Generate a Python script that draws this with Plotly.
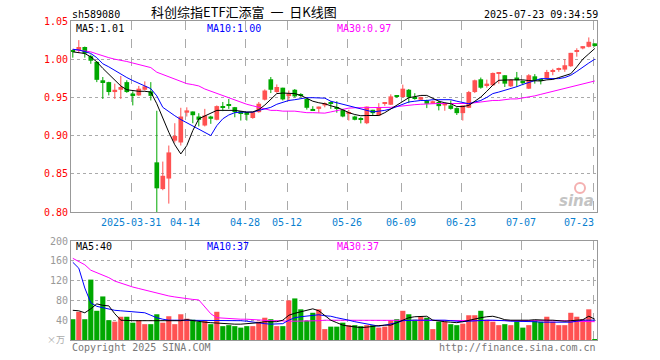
import plotly.graph_objects as go

# ---------------- data ----------------
dates = (["2025-03-%02d" % d for d in [17, 18, 19, 20, 21, 24, 25, 26, 27, 28, 31]] +
         ["2025-04-%02d" % d for d in [1, 2, 3, 7, 8, 9, 10, 11, 14, 15, 16, 17, 18, 21, 22, 23, 24, 25, 28, 29, 30]] +
         ["2025-05-%02d" % d for d in [6, 7, 8, 9, 12, 13, 14, 15, 16, 19, 20, 21, 22, 23, 26, 27, 28, 29, 30]] +
         ["2025-06-%02d" % d for d in [3, 4, 5, 6, 9, 10, 11, 12, 13, 16, 17, 18, 19, 20, 23, 24, 25, 26, 27, 30]] +
         ["2025-07-%02d" % d for d in [1, 2, 3, 4, 7, 8, 9, 10, 11, 14, 15, 16, 17, 18, 21, 22, 23]])

opens = [1.011, 1.0115, 1.016, 1.004, 0.9965, 0.9724, 0.970, 0.957, 0.960, 0.970,
         0.955, 0.9526, 0.960, 0.958, 0.865, 0.830, 0.8438, 0.8934, 0.891, 0.930,
         0.9316, 0.925, 0.9132, 0.925, 0.9207, 0.9375, 0.940, 0.9372, 0.932, 0.9307,
         0.923, 0.9307, 0.947, 0.9737, 0.957, 0.9627, 0.9517, 0.960, 0.953, 0.948,
         0.934, 0.935, 0.9395, 0.942, 0.937, 0.9338, 0.9285, 0.925, 0.921, 0.9162,
         0.9338, 0.9263, 0.9415, 0.9404, 0.9515, 0.9504, 0.960, 0.9495, 0.947, 0.946,
         0.9417, 0.944, 0.9395, 0.9395, 0.936, 0.9294, 0.9364, 0.957, 0.9737, 0.9658,
         0.9658, 0.981, 0.979, 0.9645, 0.976, 0.9695, 0.9614, 0.9776, 0.9735, 0.9754,
         0.984, 0.986, 0.9864, 0.9908, 1.0105, 1.0141, 1.0162, 1.0207]
highs = [1.013, 1.025, 1.0165, 1.006, 0.9975, 0.9767, 0.9705, 0.968, 0.978, 0.9724,
         0.958, 0.965, 0.971, 0.970, 0.9325, 0.866, 0.887, 0.9162, 0.9364, 0.937,
         0.9316, 0.9293, 0.935, 0.926, 0.9395, 0.944, 0.948, 0.9375, 0.932, 0.931,
         0.931, 0.944, 0.9605, 0.9767, 0.967, 0.9627, 0.959, 0.961, 0.9555, 0.948,
         0.9385, 0.938, 0.9435, 0.945, 0.945, 0.935, 0.9338, 0.926, 0.924, 0.938,
         0.9338, 0.9425, 0.9435, 0.954, 0.9515, 0.9667, 0.961, 0.9555, 0.951, 0.947,
         0.946, 0.946, 0.9435, 0.946, 0.937, 0.9395, 0.9585, 0.9733, 0.976, 0.9733,
         0.9825, 0.9825, 0.979, 0.974, 0.9833, 0.9724, 0.9805, 0.9805, 0.974, 0.986,
         0.9875, 0.989, 1.000, 1.0083, 1.0143, 1.0171, 1.0285, 1.0207]
lows = [1.002, 1.008, 1.002, 0.994, 0.970, 0.948, 0.9526, 0.948, 0.948, 0.956,
        0.9395, 0.952, 0.959, 0.946, 0.799, 0.8285, 0.811, 0.891, 0.887, 0.925,
        0.9162, 0.912, 0.912, 0.9154, 0.920, 0.932, 0.935, 0.924, 0.9197, 0.9197,
        0.922, 0.930, 0.946, 0.9557, 0.956, 0.946, 0.945, 0.950, 0.950, 0.934,
        0.933, 0.930, 0.937, 0.935, 0.930, 0.924, 0.9197, 0.920, 0.916, 0.915,
        0.927, 0.926, 0.939, 0.940, 0.9495, 0.950, 0.9425, 0.947, 0.9465, 0.936,
        0.9417, 0.933, 0.9325, 0.934, 0.927, 0.9197, 0.936, 0.9557, 0.9614, 0.9627,
        0.965, 0.968, 0.9636, 0.9636, 0.9636, 0.966, 0.961, 0.968, 0.967, 0.975,
        0.979, 0.9835, 0.9835, 0.990, 1.0033, 1.013, 1.0155, 1.0162]
closes = [1.0095, 1.016, 1.0075, 0.998, 0.973, 0.970, 0.957, 0.960, 0.9636, 0.957,
          0.9526, 0.9614, 0.9645, 0.952, 0.831, 0.8474, 0.878, 0.8996, 0.925, 0.933,
          0.9267, 0.9207, 0.9263, 0.922, 0.9386, 0.937, 0.9395, 0.9307, 0.9294, 0.9272,
          0.9307, 0.9417, 0.959, 0.960, 0.9636, 0.9474, 0.9549, 0.9513, 0.9525, 0.9364,
          0.9335, 0.938, 0.9425, 0.9415, 0.935, 0.925, 0.929, 0.9207, 0.9205, 0.938,
          0.9294, 0.9372, 0.942, 0.9513, 0.951, 0.9614, 0.9504, 0.949, 0.9504, 0.9417,
          0.945, 0.9386, 0.9425, 0.935, 0.9294, 0.9395, 0.957, 0.9724, 0.9627, 0.968,
          0.982, 0.9825, 0.968, 0.973, 0.9724, 0.969, 0.979, 0.9724, 0.9725, 0.9833,
          0.985, 0.9868, 0.9921, 1.0083, 1.0113, 1.0171, 1.0228, 1.0184]

ma5 = [1.0096, 1.009, 1.0075, 1.003, 0.9965, 0.988, 0.980, 0.972, 0.965, 0.960,
       0.959, 0.958, 0.958, 0.957, 0.9417, 0.922, 0.9044, 0.888, 0.876, 0.887,
       0.9066, 0.922, 0.926, 0.929, 0.933, 0.933, 0.933, 0.933, 0.932, 0.9307,
       0.931, 0.934, 0.940, 0.948, 0.955, 0.9557, 0.9557, 0.955, 0.9526, 0.949,
       0.945, 0.943, 0.9417, 0.939, 0.937, 0.9338, 0.930, 0.9276, 0.926, 0.9263,
       0.9263, 0.9263, 0.930, 0.935, 0.9395, 0.945, 0.9496, 0.951, 0.9526, 0.9526,
       0.949, 0.945, 0.943, 0.9417, 0.938, 0.938, 0.9395, 0.945, 0.9504, 0.958,
       0.966, 0.9724, 0.973, 0.973, 0.973, 0.973, 0.972, 0.972, 0.9715, 0.973,
       0.9735, 0.976, 0.978, 0.981, 0.990, 1.000, 1.007, 1.014]
ma10 = [1.013, 1.012, 1.010, 1.0075, 1.002, 0.994, 0.990, 0.985, 0.981, 0.976,
        0.972, 0.969, 0.965, 0.9614, 0.952, 0.937, 0.931, 0.926, 0.921, 0.917,
        0.913, 0.909, 0.904, 0.900, 0.913, 0.922, 0.927, 0.930, 0.9307, 0.9307,
        0.9307, 0.933, 0.935, 0.937, 0.941, 0.944, 0.946, 0.947, 0.948, 0.9496,
        0.9496, 0.9496, 0.949, 0.945, 0.943, 0.941, 0.938, 0.937, 0.935, 0.933,
        0.931, 0.932, 0.933, 0.935, 0.938, 0.941, 0.944, 0.945, 0.946, 0.946,
        0.947, 0.947, 0.947, 0.947, 0.945, 0.943, 0.9417, 0.944, 0.946, 0.950,
        0.955, 0.957, 0.959, 0.9614, 0.964, 0.967, 0.970, 0.972, 0.9746, 0.9746,
        0.9746, 0.9746, 0.976, 0.979, 0.984, 0.990, 0.995, 1.000]
ma30 = [1.013, 1.012, 1.011, 1.0096, 1.007, 1.004, 1.002, 1.000, 0.9987, 0.997,
        0.995, 0.993, 0.991, 0.989, 0.983, 0.980, 0.977, 0.973, 0.970, 0.968,
        0.9667, 0.965, 0.961, 0.958, 0.955, 0.952, 0.9496, 0.947, 0.944, 0.941,
        0.939, 0.937, 0.935, 0.933, 0.933, 0.932, 0.932, 0.932, 0.931, 0.930,
        0.930, 0.9295, 0.9294, 0.931, 0.933, 0.935, 0.936, 0.9364, 0.9364, 0.9364,
        0.9364, 0.937, 0.937, 0.937, 0.938, 0.939, 0.940, 0.9405, 0.941, 0.9417,
        0.9417, 0.942, 0.942, 0.9417, 0.9417, 0.9417, 0.942, 0.943, 0.944, 0.945,
        0.946, 0.946, 0.947, 0.948, 0.948, 0.949, 0.951, 0.952, 0.954, 0.956,
        0.957, 0.959, 0.961, 0.963, 0.965, 0.967, 0.969, 0.9715]

vol = [42, 57, 42, 122, 59, 88, 40, 37, 47, 47,
       35, 40, 32, 32, 52, 35, 48, 32, 52, 43,
       41, 37, 39, 32, 57, 28, 30, 28, 25, 28,
       28, 37, 45, 42, 28, 28, 80, 84, 62, 39,
       55, 62, 22, 27, 27, 35, 30, 30, 28, 30,
       30, 25, 27, 40, 42, 59, 52, 41, 47, 45,
       22, 37, 37, 32, 30, 33, 50, 50, 59, 41,
       37, 30, 32, 30, 37, 25, 30, 40, 37, 47,
       37, 30, 30, 55, 47, 42, 62, 2]
vma5 = [60, 59, 55, 63, 73, 70, 69, 53, 40, 39,
        39, 39, 39, 39, 39, 39, 39, 39, 39, 41,
        39, 37, 36, 35, 34, 33, 33, 32, 32, 33,
        33, 35, 37, 37, 37, 40, 50, 54, 57, 60,
        63, 59, 50, 40, 35, 30, 28, 27, 25, 26,
        28, 29, 30, 30, 35, 40, 45, 47, 48, 48,
        40, 38, 37, 36, 35, 37, 40, 43, 45, 47,
        48, 45, 41, 40, 40, 39, 40, 41, 40, 40,
        40, 39, 38, 39, 40, 41, 48, 42]
vma10 = [157, 145, 105, 75, 68, 65, 62, 60, 59, 58,
         57, 56, 55, 50, 45, 42, 40, 40, 40, 40,
         40, 39, 39, 39, 39, 39, 39, 39, 39, 38,
         36, 34, 33, 32, 32, 33, 40, 45, 47, 48,
         50, 51, 49, 48, 45, 43, 40, 37, 35, 33,
         30, 28, 30, 32, 35, 39, 40, 40, 40, 40,
         40, 41, 40, 39, 38, 37, 38, 39, 40, 40,
         40, 40, 39, 38, 38, 37, 37, 37, 36, 36,
         35, 35, 35, 36, 38, 40, 40, 40]
vma30 = [165, 158, 152, 141, 136, 131, 126, 119, 115, 110,
         107, 104, 101, 97, 95, 92, 89, 87, 85, 83,
         82, 81, 68, 53, 45, 44, 43, 43, 42, 42,
         41, 41, 40, 39, 39, 38, 38, 38, 38, 39,
         39, 39, 40, 40, 40, 40, 39, 39, 39, 39,
         39, 39, 39, 39, 39, 39, 39, 39, 40, 40,
         40, 40, 40, 39, 39, 39, 39, 40, 40, 40,
         40, 40, 40, 40, 40, 40, 40, 40, 39, 39,
         39, 39, 39, 38, 38, 38, 38, 37]

# values shown in the legends of the reference
legend_price = {"MA5": 1.01, "MA10": 1.00, "MA30": 0.97}
legend_vol = {"MA5": 40, "MA10": 37, "MA30": 37}

tick_dates = ["2025-03-31", "2025-04-14", "2025-04-28", "2025-05-12", "2025-05-26",
              "2025-06-09", "2025-06-23", "2025-07-07", "2025-07-23"]
tick_labels = ["2025-03-31", "04-14", "04-28", "05-12", "05-26", "06-09", "06-23", "07-07", "07-23"]
price_ticks = [0.80, 0.85, 0.90, 0.95, 1.00, 1.05]
vol_ticks = [40, 80, 120, 160, 200]

# ---------------- figure ----------------
RED = "#ff5252"
GREEN = "#00a800"
GRID = "#aaaaaa"
MONO = "DejaVu Sans Mono"

x = list(range(len(dates)))
is_up = [c >= o for o, c in zip(opens, closes)]

fig = go.Figure()

for flag, col in [(True, RED), (False, GREEN)]:
    wx, wy = [], []
    bx, bb, bh = [], [], []
    for i in x:
        if is_up[i] != flag:
            continue
        wx += [i, i, None]
        wy += [lows[i], highs[i], None]
        bx.append(i)
        bb.append(min(opens[i], closes[i]))
        bh.append(max(abs(closes[i] - opens[i]), 0.0014))
    fig.add_trace(go.Scatter(x=wx, y=wy, mode="lines", line=dict(color=col, width=1),
                             xaxis="x", yaxis="y", hoverinfo="skip", showlegend=False))
    fig.add_trace(go.Bar(x=bx, y=bh, base=bb, marker=dict(color=col, line=dict(width=0)),
                         width=0.78, xaxis="x", yaxis="y", showlegend=False))

for arr, col in [(ma30, "#ff00ff"), (ma10, "#0000ff"), (ma5, "#000000")]:
    fig.add_trace(go.Scatter(x=x, y=arr, mode="lines", line=dict(color=col, width=1),
                             xaxis="x", yaxis="y", showlegend=False))

fig.add_trace(go.Bar(x=x, y=vol, marker=dict(color=[RED if u else GREEN for u in is_up], line=dict(width=0)),
                     width=0.86, xaxis="x2", yaxis="y2", showlegend=False))
for arr, col in [(vma30, "#ff00ff"), (vma10, "#0000ff"), (vma5, "#000000")]:
    fig.add_trace(go.Scatter(x=x, y=arr, mode="lines", line=dict(color=col, width=1),
                             xaxis="x2", yaxis="y2", showlegend=False))

grid_pos = [dates.index(d) - 0.3 for d in tick_dates]
xr = [-0.3, -0.3 + 526 / 6.0]

axis_common = dict(range=xr, tickvals=grid_pos, showticklabels=False, ticks="",
                   showgrid=True, gridcolor=GRID, griddash="dash", gridwidth=1,
                   showline=True, linecolor="#999999", linewidth=1, mirror=True,
                   zeroline=False, fixedrange=True)

fig.update_layout(
    width=660, height=360,
    margin=dict(l=71, r=63, t=21, b=20),
    paper_bgcolor="white", plot_bgcolor="white",
    barmode="overlay",
    xaxis=dict(anchor="y", **axis_common),
    xaxis2=dict(anchor="y2", matches="x", **axis_common),
    yaxis=dict(domain=[(340 - 212) / 319, 1.0], range=[0.80, 1.05],
               tickvals=price_ticks, ticktext=["%.2f" % v for v in price_ticks],
               tickfont=dict(family=MONO, size=10, color="#ff0000"),
               showgrid=True, gridcolor=GRID, griddash="dot", gridwidth=1,
               showline=True, linecolor="#999999", linewidth=1, mirror=True,
               zeroline=False, ticks="", fixedrange=True),
    yaxis2=dict(domain=[0, (340 - 241) / 319], range=[0, 200],
                tickvals=vol_ticks, ticktext=[str(v) for v in vol_ticks],
                tickfont=dict(family=MONO, size=10, color="#999999"),
                showgrid=True, gridcolor=GRID, griddash="dot", gridwidth=1,
                showline=True, linecolor="#999999", linewidth=1, mirror=True,
                zeroline=False, ticks="", fixedrange=True),
    showlegend=False,
)


def py(pix):
    return (340 - pix) / 319.0


def px(pix):
    return (pix - 71) / 526.0


ann = []
# header
ann.append(dict(text="sh589080", x=px(70), y=py(14), xanchor="left", yanchor="middle",
                font=dict(family=MONO, size=10, color="#000000")))
ann.append(dict(text="科创综指ETF汇添富\u00a0\u00a0一\u00a0\u00a0日K线图", x=px(244), y=py(12), xanchor="center",
                yanchor="middle", font=dict(family="Noto Sans CJK SC", size=13, color="#000000")))
ann.append(dict(text="2025-07-23 09:34:59", x=px(600), y=py(14), xanchor="right", yanchor="middle",
                font=dict(family=MONO, size=10, color="#000000")))
# MA labels main
ann.append(dict(text="MA5:%.2f" % legend_price["MA5"], x=px(74), y=py(28), xanchor="left", yanchor="middle",
                font=dict(family=MONO, size=10, color="#000000")))
ann.append(dict(text="MA10:%.2f" % legend_price["MA10"], x=px(205), y=py(28), xanchor="left", yanchor="middle",
                font=dict(family=MONO, size=10, color="#0000ff")))
ann.append(dict(text="MA30:%.2f" % legend_price["MA30"], x=px(335), y=py(28), xanchor="left", yanchor="middle",
                font=dict(family=MONO, size=10, color="#ff00ff")))
# MA labels volume
ann.append(dict(text="MA5:%d" % legend_vol["MA5"], x=px(74), y=py(246), xanchor="left", yanchor="middle",
                font=dict(family=MONO, size=10, color="#000000")))
ann.append(dict(text="MA10:%d" % legend_vol["MA10"], x=px(205), y=py(246), xanchor="left", yanchor="middle",
                font=dict(family=MONO, size=10, color="#0000ff")))
ann.append(dict(text="MA30:%d" % legend_vol["MA30"], x=px(335), y=py(246), xanchor="left", yanchor="middle",
                font=dict(family=MONO, size=10, color="#ff00ff")))
# date labels
for d, lab in zip(tick_dates, tick_labels):
    i = dates.index(d)
    if d == tick_dates[-1]:
        ann.append(dict(text=lab, x=i + 0.2, xref="x", y=py(222), yref="paper", xanchor="right",
                        yanchor="middle", font=dict(family=MONO, size=10, color="#0a7fd0")))
    else:
        ann.append(dict(text=lab, x=i - 0.3, xref="x", y=py(222), yref="paper", xanchor="center",
                        yanchor="middle", font=dict(family=MONO, size=10, color="#0a7fd0")))
# bottom texts
ann.append(dict(text="×万", x=px(67), y=py(339), xanchor="right", yanchor="middle",
                font=dict(family="Noto Sans CJK SC", size=9, color="#aaaaaa")))
ann.append(dict(text="Copyright 2025 SINA.COM", x=px(70), y=py(347), xanchor="left", yanchor="middle",
                font=dict(family=MONO, size=10, color="#777777")))
ann.append(dict(text="http://finance.sina.com.cn", x=px(598), y=py(347), xanchor="right", yanchor="middle",
                font=dict(family=MONO, size=10, color="#777777")))
# watermark
ann.append(dict(text="<i><b>sina</b></i>", x=px(596), y=py(201), xanchor="right", yanchor="middle",
                font=dict(family="DejaVu Sans", size=15, color="#c4c4c4")))

for a in ann:
    a.setdefault("xref", "paper")
    a.setdefault("yref", "paper")
    a["showarrow"] = False
fig.update_layout(annotations=ann)

fig.add_shape(type="circle", xref="paper", yref="paper",
              x0=px(575), x1=px(585), y0=py(193), y1=py(183),
              line=dict(color="#f4b0b0", width=2), fillcolor="rgba(255,255,255,0)")

fig.write_html("out.html", config={"displayModeBar": False},
               post_script="document.body.style.margin='0px';")
